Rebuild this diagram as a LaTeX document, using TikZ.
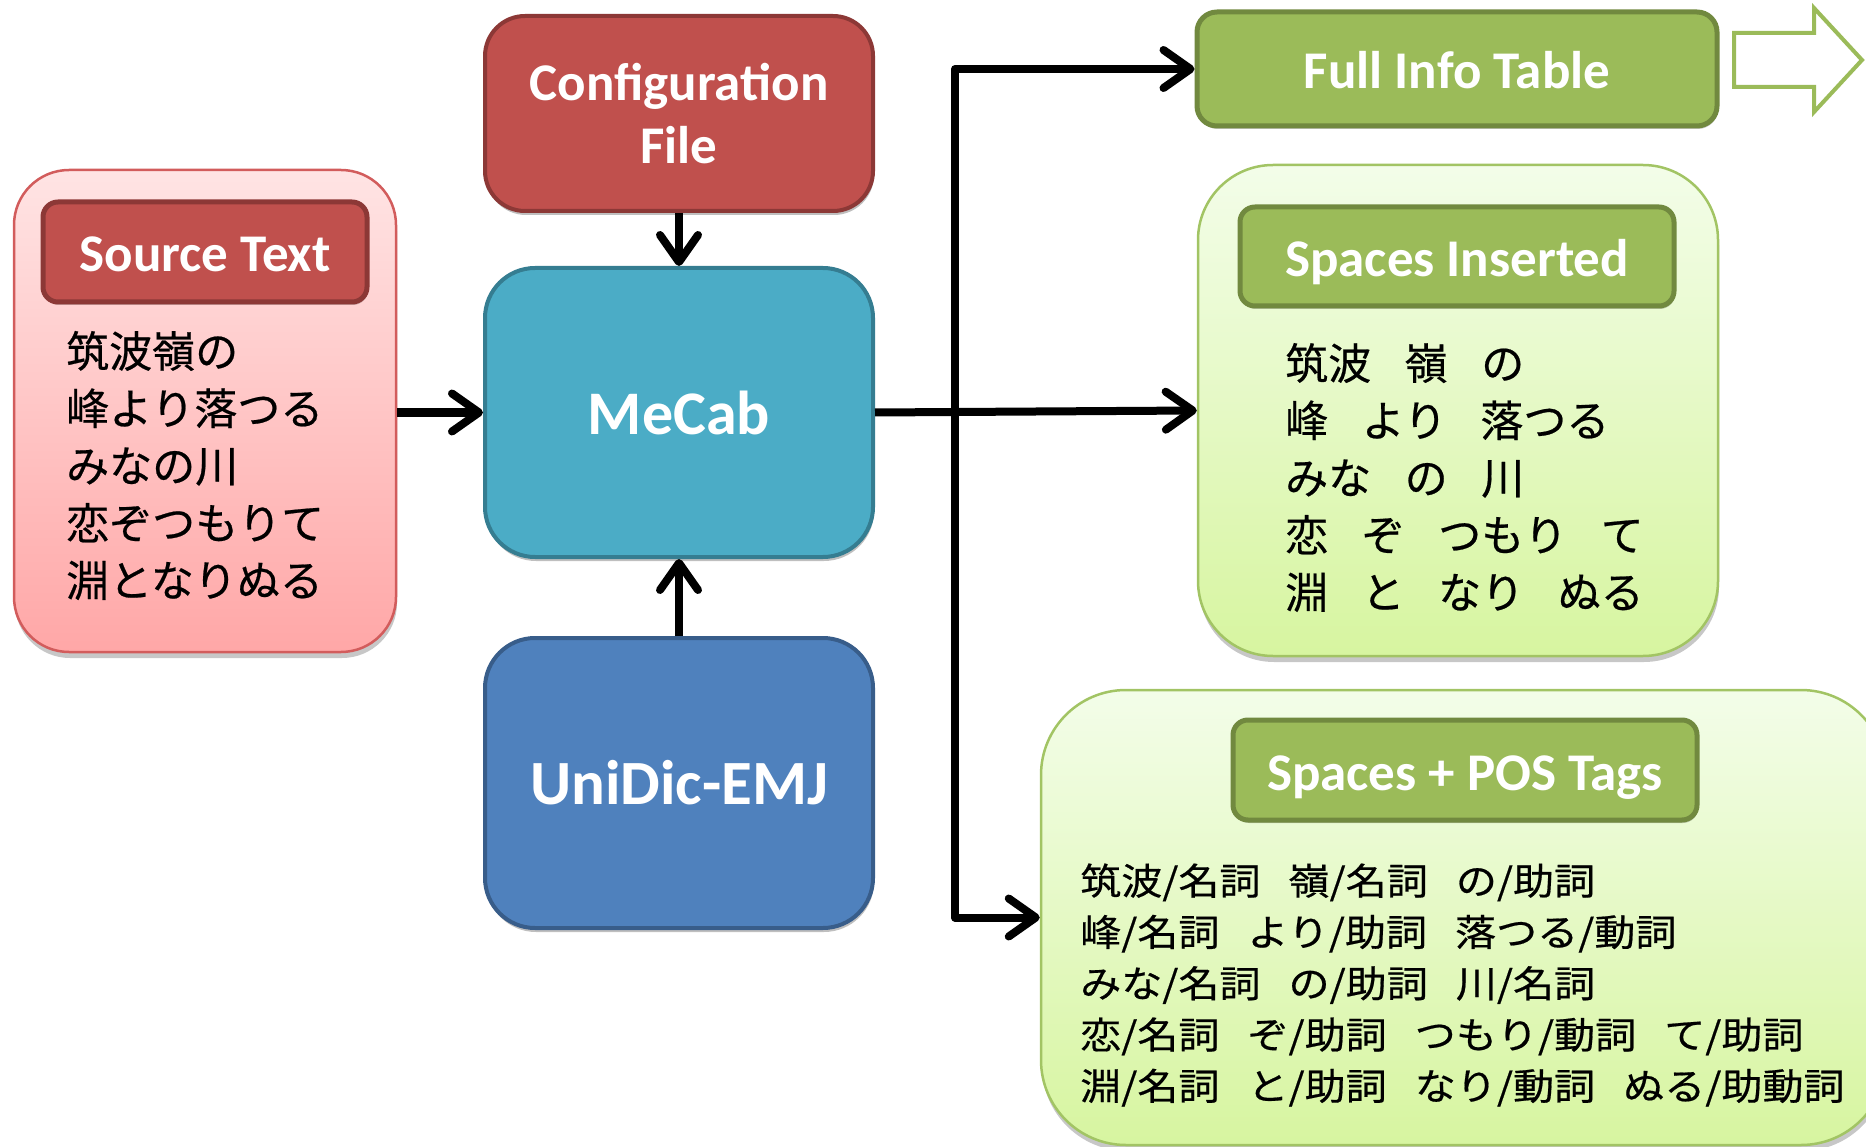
\documentclass[tikz,border=0pt]{standalone}
\usepackage{fontspec}
\setmainfont{Carlito}
\newfontfamily\jp[FakeBold=0.5]{Noto Sans CJK JP}
\newfontfamily\jpw[FakeStretch=1.11,FakeBold=0.5]{Noto Sans CJK JP}
\usetikzlibrary{arrows.meta,shadows}
\definecolor{redfill}{HTML}{C0504D}
\definecolor{redline}{HTML}{8C3836}
\definecolor{tealfill}{HTML}{4BACC6}
\definecolor{tealline}{HTML}{357D91}
\definecolor{bluefill}{HTML}{4F81BD}
\definecolor{blueline}{HTML}{385D8A}
\definecolor{grfill}{HTML}{9BBB59}
\definecolor{grline}{HTML}{71893F}
\definecolor{pinktop}{HTML}{FFE4E4}
\definecolor{pinkbot}{HTML}{FFA7A7}
\definecolor{pinkline}{HTML}{D25C5C}
\definecolor{lgtop}{HTML}{F3FDE9}
\definecolor{lgbot}{HTML}{D7F5A0}
\definecolor{lgline}{HTML}{A2C464}
\newcommand{\sgap}{\hspace{0.78em}}
\newcommand{\pgap}{\hspace{28pt}}
\begin{document}
\begin{tikzpicture}[x=1pt,y=-1pt,
  procbox/.style={draw, line width=4pt, rounded corners=45pt, text=white,
    align=center, inner sep=0pt,
    drop shadow={shadow xshift=1pt, shadow yshift=-4pt, opacity=0.25, fill=black}},
  hdrbox/.style={draw, line width=5pt, rounded corners=15pt, text=white, inner sep=0pt,
    font=\bfseries\fontsize{53}{53}\selectfont, text height=40pt, text depth=0pt,
    drop shadow={shadow xshift=1pt, shadow yshift=-3pt, opacity=0.2, fill=black}},
  panel/.style={draw, line width=2.5pt, inner sep=0pt,
    drop shadow={shadow xshift=1pt, shadow yshift=-6pt, opacity=0.22, fill=black}},
  conn/.style={line width=8pt, line join=round},
  arr/.style={conn, -{Straight Barb[length=27pt,width=38pt,round]}}
]
\useasboundingbox (0,0) rectangle (1866,1147);
\clip (0,0) rectangle (1866,1147);

% panels
\node[panel, draw=pinkline, top color=pinktop, bottom color=pinkbot,
  rounded corners=55pt, minimum width=382pt, minimum height=482pt] (src) at (205,411) {};
\node[panel, draw=lgline, top color=lgtop, bottom color=lgbot,
  rounded corners=75pt, minimum width=520pt, minimum height=491pt] (si) at (1458,410.5) {};
\node[panel, draw=lgline, top color=lgtop, bottom color=lgbot,
  rounded corners=85pt, minimum width=845pt, minimum height=455pt] (pos) at (1463.5,917.5) {};

% headers
\node[hdrbox, fill=redfill, draw=redline, minimum width=324pt, minimum height=100pt] (srch) at (205,252) {Source Text};
\node[hdrbox, fill=grfill, draw=grline, minimum width=434pt, minimum height=99pt] (sih) at (1457,256.5) {Spaces Inserted};
\node[hdrbox, fill=grfill, draw=grline, minimum width=464pt, minimum height=100pt] (posh) at (1465,770) {Spaces + POS Tags};
\node[hdrbox, fill=grfill, draw=grline, rounded corners=20pt, minimum width=520pt, minimum height=114pt] (fit) at (1457,69) {Full Info Table};

% process boxes
\node[procbox, fill=redfill, draw=redline, rounded corners=40pt, minimum width=388pt, minimum height=195pt,
  font=\bfseries\fontsize{53}{63}\selectfont] (cfg) at (679,113.5) {Configuration\\File};
\node[procbox, fill=tealfill, draw=tealline, rounded corners=50pt, minimum width=388pt, minimum height=289pt,
  font=\bfseries\fontsize{62}{62}\selectfont] (mecab) at (679,412.5) {MeCab};
\node[procbox, fill=bluefill, draw=blueline, rounded corners=50pt, minimum width=388pt, minimum height=290pt,
  font=\bfseries\fontsize{63}{63}\selectfont] (uni) at (679,783) {UniDic-EMJ};

% texts
\node[anchor=west, inner sep=0pt, align=left, font=\jp\fontsize{43}{57.3}\selectfont] (srctxt) at (66,465.5)
  {筑波嶺の\\峰より落つる\\みなの川\\恋ぞつもりて\\淵となりぬる};
\node[anchor=west, inner sep=0pt, align=left, font=\jp\fontsize{43}{57.25}\selectfont] (sitxt) at (1285,477.5)
  {筑波\sgap 嶺\sgap の\\峰\sgap より\sgap 落つる\\みな\sgap の\sgap 川\\恋\sgap ぞ\sgap つもり\sgap て\\淵\sgap と\sgap なり\sgap ぬる};
\node[anchor=west, inner sep=0pt, align=left, font=\jpw\fontsize{37}{51.3}\selectfont] (postxt) at (1080,985)
  {筑波/名詞\pgap 嶺/名詞\pgap の/助詞\\峰/名詞\pgap より/助詞\pgap 落つる/動詞\\みな/名詞\pgap の/助詞\pgap 川/名詞\\恋/名詞\pgap ぞ/助詞\pgap つもり/動詞\pgap て/助詞\\淵/名詞\pgap と/助詞\pgap なり/動詞\pgap ぬる/助動詞};

% hollow arrow
\draw[line width=4pt, draw=grfill, fill=white, line join=miter]
  (1734,33) -- (1814,33) -- (1814,8) -- (1862,60) -- (1814,112) -- (1814,87) -- (1734,87) -- cycle;

% connectors
\coordinate (jt) at (955,412.5);
\draw[arr] (src.east |- mecab.west) -- (mecab.west);
\draw[arr] (cfg.south) -- (mecab.north);
\draw[arr] (uni.north) -- (mecab.south);
\draw[arr] (mecab.east) -- (si.west);
\draw[arr] (jt) |- (fit.west);
\draw[arr] (jt) |- (pos.west);
\end{tikzpicture}
\end{document}
